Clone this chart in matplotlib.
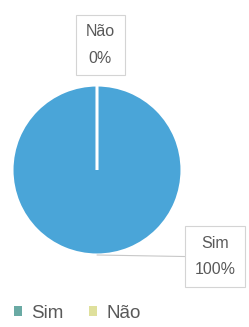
import matplotlib
matplotlib.use("Agg")
import matplotlib.pyplot as plt
from matplotlib.patches import Patch

categories = ["Sim", "Não"]
values = [100, 0]
labels = ["Sim\n100%", "Não\n0%"]
slice_colors = ["#4aa5d8", "#e3e08a"]
legend_colors = ["#6aaaa4", "#dfe09c"]

W, H = 249, 327
fig = plt.figure(figsize=(W / 100, H / 100), dpi=100)
fig.patch.set_facecolor("white")

cx, cy, r = 97, 170, 85
ax = fig.add_axes([(cx - r) / W, 1 - (cy + r) / H, 2 * r / W, 2 * r / H])
ax.axis("off")

wedges, _ = ax.pie(values, colors=slice_colors, startangle=90, counterclock=False,
                   radius=1, center=(0, 0), frame=False,
                   wedgeprops=dict(edgecolor="white", linewidth=2.2))
ax.set_xlim(-1, 1)
ax.set_ylim(-1, 1)
ax.set_aspect("auto")

font = "Liberation Sans"
tc = "#595959"
box = dict(boxstyle="square,pad=0.6", facecolor="white", edgecolor="#d4d4d4", linewidth=0.8)

# Não label (top)
ax.annotate(labels[1], xy=(0, 1), xytext=(0.04, 1.47), ha="center", va="center",
            fontsize=11.5, color=tc, family=font, linespacing=1.95, bbox=box,
            annotation_clip=False)
# Sim label (bottom right) with leader line
ax.annotate(labels[0], xy=(0.0, -1.0), xytext=(1.39, -1.02), ha="center", va="center",
            fontsize=11.5, color=tc, family=font, linespacing=1.95, bbox=box,
            annotation_clip=False,
            arrowprops=dict(arrowstyle="-", color="#c8c8c8", linewidth=0.8,
                            shrinkA=0, shrinkB=0, relpos=(0, 0.5)))

handles = [Patch(facecolor=c, edgecolor="none") for c in legend_colors]
fig.legend(handles, categories, loc="center left", bbox_to_anchor=(-0.012, 1 - 313 / H),
           ncol=2, frameon=False, handlelength=0.42, handleheight=0.42,
           handletextpad=0.5, columnspacing=1.35,
           prop=dict(family=font, size=13.5), labelcolor=tc)

fig.savefig("out.png", dpi=100, facecolor="white")
